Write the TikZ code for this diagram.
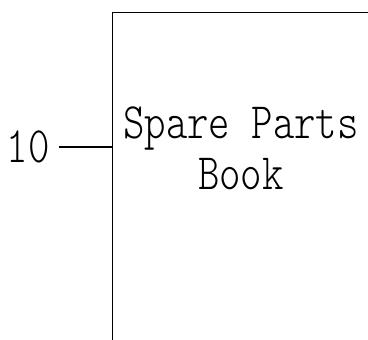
\documentclass[tikz,border=0pt]{standalone}
\usepackage{fontspec}
\usepackage{tikz}
\usetikzlibrary{positioning,calc}
\newfontfamily\partsfont{lmmonolt10-regular.otf}[FakeStretch=0.8]
\tikzset{
  frame/.style={draw=black,line width=1.4pt},
  callout/.style={font=\partsfont\fontsize{51}{51}\selectfont,inner sep=0pt},
  leader/.style={line width=1.4pt,draw=black}
}

\begin{document}
\begin{tikzpicture}[x=1pt,y=-1pt]
  \useasboundingbox (0,0) rectangle (368,340);
  \node[frame,anchor=north west,minimum width=400pt,minimum height=400pt] (book) at (112,12) {};
  \node[callout,align=center] (title) at (241,148) {Spare Parts\\Book};
  \node[callout,inner xsep=9pt] (tag) at (28,147) {10};
  \draw[leader] (tag.east) -- (tag.east -| book.west);
\end{tikzpicture}
\end{document}
